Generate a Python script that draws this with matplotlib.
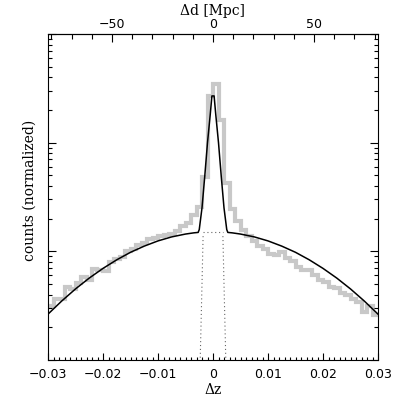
import numpy as np
import matplotlib
matplotlib.use("Agg")
import matplotlib.pyplot as plt
from matplotlib.ticker import MultipleLocator, LogLocator, NullFormatter, FixedLocator

# ---------------- data ----------------
# histogram: 60 bins of width 0.001 between -0.03 and 0.03, log10(normalized counts)
bin_edges = np.round(np.arange(-0.030, 0.0305, 0.001), 4)
log_counts = [-2.50, -2.44, -2.44, -2.33, -2.35, -2.29, -2.24, -2.26, -2.16, -2.17,
              -2.18, -2.10, -2.07, -2.05, -2.00, -1.975, -1.945, -1.92, -1.885, -1.875,
              -1.86, -1.85, -1.84, -1.81, -1.77, -1.74, -1.67, -1.59, -1.32, -0.575,
              -0.459, -0.789, -1.367, -1.615, -1.725, -1.80, -1.862, -1.908, -1.954, -1.98,
              -2.02, -2.037, -2.01, -2.064, -2.09, -2.14, -2.17, -2.17, -2.22, -2.26,
              -2.28, -2.33, -2.34, -2.38, -2.40, -2.44, -2.47, -2.56, -2.50, -2.59]

# model (solid black): broad + narrow component
model_x = [-0.030, -0.0275, -0.025, -0.0225, -0.020, -0.0175, -0.015, -0.0125, -0.010,
           -0.0075, -0.005, -0.0035, -0.0027, -0.0025, -0.0020, -0.0015, -0.0010, -0.0005,
           -0.0002, 0.0002, 0.0005, 0.0010, 0.0015, 0.0020, 0.0025, 0.0027, 0.0035,
           0.005, 0.0075, 0.010, 0.0125, 0.015, 0.0175, 0.020, 0.0225, 0.025, 0.0275, 0.030]
model_log = [-2.578, -2.457, -2.346, -2.246, -2.157, -2.078, -2.009, -1.952, -1.904,
             -1.867, -1.841, -1.830, -1.826, -1.80, -1.60, -1.31, -1.00, -0.74,
             -0.57, -0.57, -0.74, -1.00, -1.31, -1.60, -1.80, -1.826, -1.830,
             -1.841, -1.867, -1.904, -1.952, -2.009, -2.078, -2.157, -2.246, -2.346, -2.457, -2.578]

# dotted components
broad_x = [-0.0018, 0.0018]
broad_log = [-1.823, -1.823]
narrow_left_x = [-0.0018, -0.0020, -0.00235]
narrow_right_x = [0.0018, 0.0020, 0.00235]
narrow_log = [-1.86, -2.30, -3.05]

MPC_PER_DZ = 2723.0   # top axis conversion

# ---------------- figure ----------------
plt.rcParams['font.family'] = ['DejaVu Sans']
fig = plt.figure(figsize=(3.99, 4.03), dpi=100)
ax = fig.add_axes([48/399, 1-360/403, 330/399, 326/403])

counts = 10 ** np.array(log_counts)
ax.stairs(counts, bin_edges, baseline=None, color='#c8c8c8', linewidth=3.0, zorder=1)

ax.plot(model_x, 10 ** np.array(model_log), color='black', lw=1.1, zorder=3)
dot = dict(color='#666666', lw=0.8, ls=(0, (1, 2.5)), zorder=2)
ax.plot(broad_x, 10 ** np.array(broad_log), **dot)
ax.plot(narrow_left_x, 10 ** np.array(narrow_log), **dot)
ax.plot(narrow_right_x, 10 ** np.array(narrow_log), **dot)

ax.set_yscale('log')
ax.set_xlim(-0.03, 0.03)
ax.set_ylim(1e-3, 1)

ax.xaxis.set_major_locator(FixedLocator([-0.03, -0.02, -0.01, 0, 0.01, 0.02, 0.03]))
ax.xaxis.set_minor_locator(MultipleLocator(0.001))
ax.set_xticklabels(['\u22120.03', '\u22120.02', '\u22120.01', '0', '0.01', '0.02', '0.03'])
ax.yaxis.set_major_locator(LogLocator(base=10))
ax.yaxis.set_minor_locator(LogLocator(base=10, subs=np.arange(2, 10)))
ax.yaxis.set_major_formatter(NullFormatter())
ax.yaxis.set_minor_formatter(NullFormatter())

ax.tick_params(axis='both', which='both', direction='in', top=False, right=True, width=0.8)
ax.tick_params(axis='y', which='major', length=6)
ax.tick_params(axis='y', which='minor', length=3)
ax.tick_params(axis='x', which='major', length=5, labelsize=9, pad=6)
ax.tick_params(axis='x', which='minor', length=2.5)
for s in ax.spines.values():
    s.set_linewidth(0.8)

ax.set_xlabel('\u0394z', family='DejaVu Serif', fontsize=10, labelpad=1)
ax.set_ylabel('counts (normalized)', family='DejaVu Serif', fontsize=10)
ax.yaxis.set_label_coords(-0.035, 0.52)

top = ax.secondary_xaxis('top', functions=(lambda x: x * MPC_PER_DZ, lambda d: d / MPC_PER_DZ))
top.xaxis.set_major_locator(FixedLocator([-50, 0, 50]))
top.xaxis.set_minor_locator(MultipleLocator(10))
top.set_xticklabels(['\u221250', '0', '50'])
top.tick_params(axis='x', which='major', direction='in', length=6, width=0.8, labelsize=9, pad=2.5)
top.tick_params(axis='x', which='minor', direction='in', length=3.5, width=0.8)
top.set_xlabel('\u0394d [Mpc]', family='DejaVu Serif', fontsize=10, labelpad=1.5)
top.spines['top'].set_linewidth(0.8)

fig.savefig('out.png', dpi=100)
